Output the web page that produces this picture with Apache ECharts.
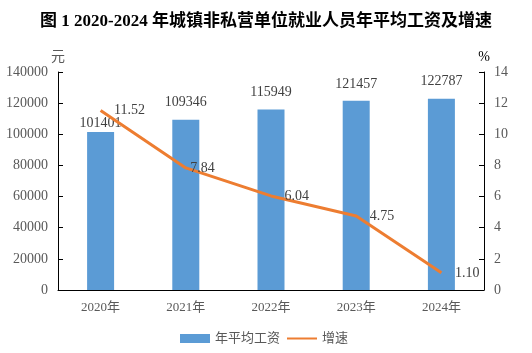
<!DOCTYPE html>
<html>
<head>
<meta charset="utf-8">
<script src="https://cdn.jsdelivr.net/npm/echarts@6/dist/echarts.min.js"></script>
<style>
  html, body { margin: 0; padding: 0; background: #fff; }
  #chart { width: 532px; height: 353px; }
</style>
</head>
<body>
<div id="chart"></div>
<script>
var years = ['2020年', '2021年', '2022年', '2023年', '2024年']
var wages = [101401, 109346, 115949, 121457, 122787]
var growth = [11.52, 7.84, 6.04, 4.75, 1.10]

var fontFam = '"Liberation Serif", "Noto Sans CJK SC", serif'
var gray = '#595959'

// the 2020 wage label sits lower, the 2021 growth label sits closer (as in the source)
var barData = wages.map(function (v, i) {
  return i === 0 ? { value: v, label: { distance: 2 } } : v
})
var lineData = growth.map(function (v, i) {
  return i === 1 ? { value: v, label: { distance: 4 } } : v
})

var chart = echarts.init(document.getElementById('chart'))

var option = {
  animation: false,
  title: {
    text: '图 1 2020-2024 年城镇非私营单位就业人员年平均工资及增速',
    left: 'center',
    top: 8,
    textStyle: { fontFamily: fontFam, fontSize: 17, fontWeight: 'bold', color: '#000' }
  },
  legend: {
    bottom: 3,
    left: 175,
    itemWidth: 30,
    itemHeight: 9,
    itemGap: 6,
    textStyle: { fontFamily: fontFam, fontSize: 13, color: gray },
    data: [
      { name: '年平均工资', icon: 'rect' },
      { name: '增速' }
    ]
  },
  grid: { left: 58, right: 48, top: 72, bottom: 63 },
  xAxis: {
    type: 'category',
    data: years,
    axisLine: { lineStyle: { color: '#000' } },
    axisTick: { inside: true, length: 5, lineStyle: { color: '#000' } },
    axisLabel: { fontFamily: fontFam, fontSize: 13, color: gray, margin: 11 }
  },
  yAxis: [
    {
      type: 'value',
      min: 0, max: 140000, interval: 20000,
      name: '元',
      nameGap: 8,
      nameTextStyle: { fontFamily: fontFam, fontSize: 14, color: gray, align: 'center' },
      axisLine: { show: true, lineStyle: { color: '#000' } },
      axisTick: { show: true, inside: true, length: 5, lineStyle: { color: '#000' } },
      axisLabel: { fontFamily: fontFam, fontSize: 14, color: gray, margin: 10, formatter: function (v) { return String(v) } },
      splitLine: { show: false }
    },
    {
      type: 'value',
      min: 0, max: 14, interval: 2,
      name: '%',
      nameGap: 8,
      nameTextStyle: { fontFamily: fontFam, fontSize: 14, color: '#000', align: 'center' },
      axisLine: { show: true, lineStyle: { color: '#000' } },
      axisTick: { show: true, inside: true, length: 5, lineStyle: { color: '#000' } },
      axisLabel: { fontFamily: fontFam, fontSize: 14, color: gray, margin: 10 },
      splitLine: { show: false }
    }
  ],
  series: [
    {
      name: '年平均工资',
      type: 'bar',
      data: barData,
      barWidth: 27,
      itemStyle: { color: '#5B9BD5' },
      label: {
        show: true,
        position: 'top',
        distance: 10,
        fontFamily: fontFam,
        fontSize: 14,
        color: '#404040'
      }
    },
    {
      name: '增速',
      type: 'line',
      yAxisIndex: 1,
      data: lineData,
      symbol: 'circle',
      symbolSize: 1,
      showSymbol: true,
      lineStyle: { color: '#ED7D31', width: 3 },
      itemStyle: { color: 'rgba(237,125,49,0)', borderWidth: 0 },
      label: {
        show: true,
        position: 'right',
        distance: 13,
        fontFamily: fontFam,
        fontSize: 14,
        color: '#404040',
        formatter: function (p) { return p.value.toFixed(2) }
      },
      labelLayout: { hideOverlap: false }
    }
  ]
}

chart.setOption(option)
</script>
</body>
</html>
